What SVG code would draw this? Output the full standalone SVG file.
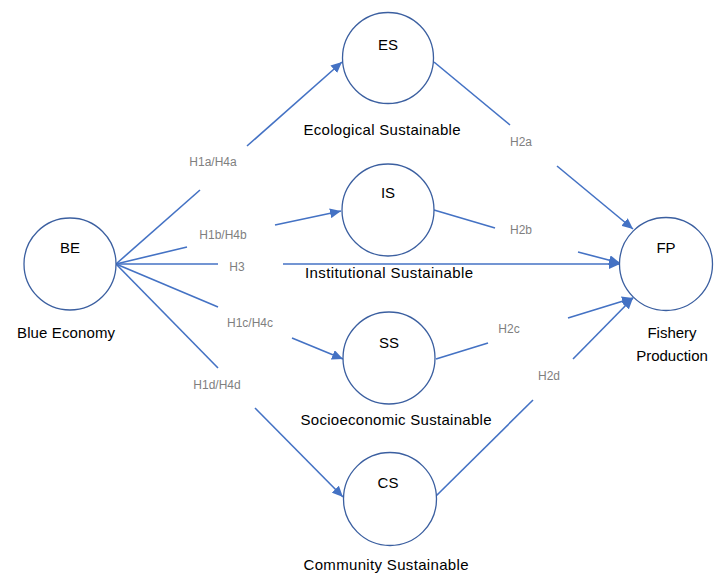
<svg xmlns="http://www.w3.org/2000/svg" width="721" height="574" viewBox="0 0 721 574">
<style>
.node{fill:#fff;stroke:#3B5FA0;stroke-width:1.3}
.lbl{font-family:"Liberation Sans",Arial,sans-serif;font-size:15px;fill:#000;text-anchor:middle}
.hyp{font-family:"Liberation Sans",Arial,sans-serif;font-size:12px;fill:#7f7f7f;text-anchor:middle}
.c{fill:none;stroke:#4472C4;stroke-width:1.6}
</style>
<defs>
<marker id="arr" markerUnits="userSpaceOnUse" markerWidth="12" markerHeight="10" refX="11" refY="5" orient="auto">
<path d="M0,0 L11,5 L0,10 z" fill="#4472C4"/>
</marker>
</defs>
<rect width="721" height="574" fill="#fff"/>
<g id="connectors">
<line class="c" x1="116" y1="264" x2="200" y2="190"/>
<line class="c" x1="247" y1="146" x2="342" y2="62" marker-end="url(#arr)"/>
<line class="c" x1="116" y1="264" x2="187" y2="247"/>
<line class="c" x1="275" y1="225" x2="341" y2="211" marker-end="url(#arr)"/>
<line class="c" x1="116" y1="264" x2="218" y2="264"/>
<line class="c" x1="283" y1="264" x2="620" y2="264" marker-end="url(#arr)"/>
<line class="c" x1="116" y1="264" x2="218" y2="307"/>
<line class="c" x1="292" y1="338" x2="343" y2="359" marker-end="url(#arr)"/>
<line class="c" x1="116" y1="264" x2="218" y2="368"/>
<line class="c" x1="255" y1="408" x2="343" y2="497" marker-end="url(#arr)"/>
<line class="c" x1="434" y1="62" x2="510" y2="125"/>
<line class="c" x1="557" y1="166" x2="633" y2="229" marker-end="url(#arr)"/>
<line class="c" x1="434" y1="210" x2="495" y2="228"/>
<line class="c" x1="578" y1="252" x2="620" y2="263" marker-end="url(#arr)"/>
<line class="c" x1="436" y1="359" x2="488" y2="343"/>
<line class="c" x1="568" y1="318" x2="633" y2="298" marker-end="url(#arr)"/>
<line class="c" x1="435" y1="497" x2="533" y2="400"/>
<line class="c" x1="573" y1="359" x2="633" y2="298" marker-end="url(#arr)"/>
</g>
<g id="hyp-labels">
<text class="hyp" x="213" y="166">H1a/H4a</text>
<text class="hyp" x="223" y="239">H1b/H4b</text>
<text class="hyp" x="237" y="271">H3</text>
<text class="hyp" x="250" y="327">H1c/H4c</text>
<text class="hyp" x="217" y="389">H1d/H4d</text>
<text class="hyp" x="521" y="146">H2a</text>
<text class="hyp" x="521" y="234">H2b</text>
<text class="hyp" x="509" y="333">H2c</text>
<text class="hyp" x="549" y="380">H2d</text>
</g>
<g id="node-BE">
<circle class="node" cx="70" cy="264" r="46"/>
<text class="lbl" x="70" y="253">BE</text>
<text class="lbl" x="66" y="338" textLength="98">Blue Economy</text>
</g>
<g id="node-ES">
<circle class="node" cx="388" cy="58" r="45.5"/>
<text class="lbl" x="388" y="50">ES</text>
<text class="lbl" x="382" y="135" textLength="157">Ecological Sustainable</text>
</g>
<g id="node-IS">
<circle class="node" cx="388" cy="210" r="46"/>
<text class="lbl" x="388" y="198">IS</text>
<text class="lbl" x="389" y="278" textLength="168">Institutional Sustainable</text>
</g>
<g id="node-SS">
<circle class="node" cx="389" cy="358" r="46"/>
<text class="lbl" x="389" y="348">SS</text>
<text class="lbl" x="396" y="425" textLength="191">Socioeconomic Sustainable</text>
</g>
<g id="node-CS">
<circle class="node" cx="390" cy="499" r="46.5"/>
<text class="lbl" x="388" y="488">CS</text>
<text class="lbl" x="386" y="570" textLength="165">Community Sustainable</text>
</g>
<g id="node-FP">
<circle class="node" cx="666" cy="264" r="46.5"/>
<text class="lbl" x="666" y="253">FP</text>
<text class="lbl" x="672" y="338">Fishery</text>
<text class="lbl" x="672" y="361">Production</text>
</g>
</svg>
